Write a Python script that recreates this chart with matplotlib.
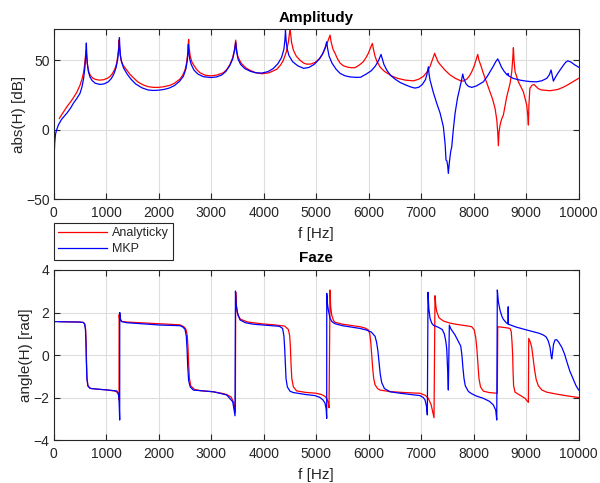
#!/usr/bin/env python3
import matplotlib

matplotlib.use("Agg")
import matplotlib.pyplot as plt

# frequency response: analytic solution vs FEM (MKP)
mag_an_f = [107, 180, 250, 320, 375, 440, 500, 540, 565, 585, 600, 612, 617, 625, 635, 650, 670, 700,
            750, 800, 870, 950, 1020, 1072, 1120, 1168, 1200, 1220, 1235, 1244, 1252, 1265, 1285, 1320,
            1390, 1450, 1516, 1600, 1707, 1800, 1900, 2000, 2100, 2215, 2300, 2406, 2460, 2501, 2530,
            2550, 2562, 2570, 2580, 2600, 2630, 2660, 2720, 2787, 2880, 2990, 3100, 3231, 3300, 3358,
            3410, 3445, 3467, 3480, 3505, 3540, 3581, 3660, 3740, 3850, 3970, 4100, 4248, 4320, 4374,
            4430, 4470, 4502, 4530, 4565, 4620, 4692, 4760, 4820, 4900, 4980, 5073, 5130, 5168, 5220,
            5264, 5285, 5320, 5359, 5400, 5454, 5520, 5600, 5680, 5740, 5820, 5898, 5950, 5993, 6040,
            6070, 6090, 6120, 6153, 6220, 6300, 6344, 6450, 6550, 6700, 6850, 6950, 7041, 7110, 7168,
            7220, 7257, 7280, 7320, 7359, 7450, 7549, 7650, 7750, 7800, 7870, 7920, 7962, 8010, 8050,
            8077, 8100, 8134, 8180, 8229, 8311, 8360, 8407, 8440, 8458, 8470, 8482, 8502, 8530, 8565,
            8629, 8693, 8725, 8744, 8756, 8768, 8788, 8851, 8946, 9010, 9030, 9042, 9052, 9070, 9110,
            9150, 9190, 9232, 9300, 9455, 9600, 9700, 9800, 9900, 10000]
mag_an_db = [8.2, 12.5, 16.5, 20.0, 23.0, 27.0, 32.0, 36.5, 40.5, 45.5, 51.0, 56.0, 57.5, 54.0, 49.0,
             45.0, 41.5, 39.0, 37.0, 36.2, 35.7, 36.0, 37.0, 38.3, 40.5, 44.0, 48.0, 53.0, 58.0, 64.5,
             60.0, 54.0, 50.0, 46.5, 43.0, 40.0, 37.5, 34.5, 32.2, 31.0, 30.5, 30.5, 31.0, 32.0, 33.5,
             36.5, 39.5, 43.0, 48.0, 54.0, 60.0, 65.0, 59.0, 53.0, 49.0, 47.0, 43.5, 41.0, 39.3, 38.8,
             39.3, 41.0, 43.5, 47.0, 52.0, 58.0, 64.5, 59.0, 53.0, 50.0, 47.5, 44.5, 42.8, 41.0, 40.3,
             41.0, 43.5, 46.5, 50.0, 56.0, 63.0, 73.0, 63.0, 57.3, 53.0, 50.0, 48.0, 47.2, 47.3, 48.5,
             51.5, 55.0, 58.5, 63.5, 68.1, 63.0, 58.0, 55.0, 51.5, 48.0, 46.0, 45.0, 44.6, 44.7, 46.5,
             49.0, 52.0, 55.0, 59.5, 62.1, 58.0, 53.0, 49.5, 45.0, 42.0, 41.0, 38.5, 37.0, 35.7, 35.2,
             36.3, 38.4, 41.5, 45.5, 51.0, 55.0, 52.5, 49.0, 47.0, 43.0, 39.5, 37.0, 35.3, 35.0, 36.5,
             38.8, 41.7, 46.0, 51.0, 54.2, 50.0, 46.5, 41.0, 35.8, 27.3, 22.0, 15.4, 7.0, -2.0, -11.5,
             -2.0, 3.4, 7.5, 10.6, 23.7, 33.4, 41.7, 51.4, 59.0, 50.0, 41.7, 34.5, 27.3, 17.8, 10.0,
             3.4, 18.0, 29.8, 32.0, 32.6, 31.0, 29.5, 28.6, 28.1, 29.0, 30.5, 32.5, 34.8, 37.0]

mag_mkp_f = [12, 20, 35, 57, 90, 150, 248, 320, 374, 440, 501, 540, 570, 595, 612, 622, 628, 640, 660,
             690, 730, 790, 880, 960, 1040, 1100, 1150, 1190, 1220, 1240, 1252, 1258, 1270, 1290, 1330,
             1400, 1470, 1560, 1680, 1800, 1900, 2000, 2100, 2200, 2300, 2400, 2470, 2520, 2545, 2558,
             2565, 2572, 2590, 2620, 2670, 2750, 2850, 3000, 3100, 3200, 3280, 3350, 3410, 3445, 3467,
             3480, 3510, 3560, 3640, 3750, 3850, 3960, 4080, 4180, 4270, 4340, 4385, 4405, 4415, 4425,
             4445, 4480, 4550, 4650, 4760, 4860, 4960, 5050, 5120, 5170, 5200, 5215, 5245, 5300, 5380,
             5454, 5550, 5650, 5772, 5850, 5868, 5950, 6050, 6130, 6190, 6235, 6255, 6290, 6350, 6420,
             6500, 6600, 6700, 6800, 6880, 6950, 7020, 7080, 7110, 7136, 7150, 7168, 7230, 7296, 7360,
             7422, 7455, 7473, 7490, 7505, 7517, 7535, 7560, 7582, 7610, 7645, 7690, 7740, 7770, 7791,
             7810, 7854, 7900, 7963, 8050, 8184, 8260, 8311, 8370, 8420, 8458, 8490, 8530, 8580, 8640,
             8655, 8665, 8750, 8883, 9000, 9100, 9201, 9300, 9392, 9440, 9474, 9495, 9518, 9545, 9600,
             9645, 9700, 9750, 9791, 9850, 9920, 10000]
mag_mkp_db = [-15.8, -9.0, -3.0, 0.0, 3.5, 7.5, 11.8, 15.5, 19.0, 22.5, 26.2, 31.0, 37.0, 45.0, 54.0,
              62.4, 56.0, 48.0, 42.0, 38.0, 35.5, 33.5, 32.6, 33.0, 34.5, 37.0, 40.5, 45.0, 51.0, 58.0,
              66.2, 61.0, 54.0, 49.0, 44.5, 40.0, 36.5, 33.0, 30.2, 28.6, 28.3, 28.5, 29.0, 30.0, 31.8,
              35.0, 38.5, 44.0, 50.0, 56.0, 61.4, 57.0, 51.0, 47.0, 43.0, 40.0, 38.2, 37.6, 38.0, 39.4,
              42.0, 46.0, 51.0, 57.0, 63.0, 57.0, 51.0, 47.0, 44.0, 42.0, 41.0, 40.8, 41.8, 44.0, 47.5,
              52.0, 58.0, 65.0, 71.5, 65.0, 58.5, 53.5, 49.0, 46.0, 44.2, 44.8, 47.0, 50.5, 54.5, 59.0,
              63.3, 59.0, 53.0, 48.0, 43.5, 40.6, 38.8, 38.0, 37.7, 37.8, 38.3, 40.0, 42.5, 46.0, 50.0,
              54.2, 51.5, 47.0, 42.5, 39.0, 36.5, 34.0, 32.3, 30.8, 30.0, 30.5, 32.5, 36.0, 40.0, 45.3,
              40.0, 35.8, 27.0, 19.0, 12.0, 2.2, -10.0, -21.8, -22.5, -26.0, -31.4, -24.0, -16.0, -12.2,
              -0.5, 11.8, 22.5, 30.9, 36.0, 40.1, 37.0, 33.0, 31.2, 30.5, 31.5, 34.5, 38.5, 41.7, 45.5,
              49.0, 51.0, 48.5, 45.0, 42.0, 39.3, 40.5, 38.8, 37.0, 35.7, 35.0, 34.6, 34.5, 35.3, 37.0,
              39.5, 43.0, 39.0, 35.0, 37.0, 40.5, 43.0, 46.0, 48.5, 49.6, 48.8, 46.8, 45.0]

ph_an_f = [107, 500, 567, 593, 608, 618, 625, 635, 653, 695, 800, 1000, 1150, 1200, 1232, 1244, 1246,
           1255, 1270, 1300, 1400, 2025, 2400, 2480, 2520, 2545, 2558, 2570, 2585, 2610, 2680, 2800,
           3041, 3200, 3295, 3380, 3430, 3460, 3467, 3480, 3510, 3560, 3700, 3993, 4200, 4400, 4470,
           4495, 4508, 4520, 4535, 4565, 4629, 4800, 5000, 5100, 5170, 5200, 5230, 5244, 5264, 5275,
           5295, 5330, 5359, 5500, 5700, 5835, 5930, 5993, 6020, 6040, 6057, 6075, 6095, 6121, 6170,
           6216, 6400, 6700, 6978, 7080, 7136, 7190, 7219, 7244, 7263, 7280, 7296, 7340, 7422, 7550,
           7677, 7850, 7963, 8010, 8040, 8060, 8080, 8100, 8130, 8184, 8300, 8450, 8458, 8600, 8693,
           8715, 8730, 8742, 8750, 8760, 8788, 8900, 8979, 9042, 9048, 9080, 9106, 9130, 9160, 9190,
           9232, 9300, 9392, 9600, 9800, 10000]
ph_an_rad = [1.57, 1.55, 1.53, 1.45, 1.20, 0.50, -0.30, -1.10, -1.45, -1.57, -1.60, -1.64, -1.69,
             -1.73, -1.85, -2.12, 1.90, 1.70, 1.62, 1.58, 1.55, 1.47, 1.42, 1.33, 1.20, 0.90, 0.35,
             -0.40, -1.10, -1.45, -1.62, -1.68, -1.73, -1.80, -1.86, -1.98, -2.25, -2.70, 2.95, 2.30,
             1.85, 1.68, 1.55, 1.46, 1.42, 1.36, 1.20, 0.90, 0.40, -0.40, -1.10, -1.50, -1.69, -1.76,
             -1.80, -1.86, -1.95, -2.04, -2.25, -2.48, 3.06, 2.30, 1.88, 1.62, 1.54, 1.45, 1.38, 1.33,
             1.27, 1.18, 1.00, 0.60, 0.0, -0.60, -1.10, -1.40, -1.58, -1.65, -1.72, -1.77, -1.80,
             -1.90, -2.04, -2.35, -2.67, -2.95, 2.79, 2.30, 2.04, 1.75, 1.60, 1.50, 1.44, 1.38, 1.33,
             1.18, 0.80, 0.30, -0.40, -1.10, -1.50, -1.70, -1.77, -1.80, 1.33, 1.29, 1.25, 1.10, 0.60,
             0.0, -0.80, -1.45, -1.75, -1.92, -2.04, -2.23, 0.78, 0.60, 0.35, -0.10, -0.70, -1.15,
             -1.45, -1.65, -1.75, -1.85, -1.93, -2.00]

ph_mkp_f = [0, 12, 13, 500, 564, 590, 605, 615, 622, 632, 650, 692, 800, 1000, 1200, 1232, 1244, 1257,
            1258, 1270, 1295, 1390, 2025, 2406, 2450, 2500, 2525, 2540, 2552, 2570, 2600, 2660, 2800,
            3041, 3295, 3410, 3454, 3462, 3475, 3498, 3549, 3650, 3800, 3993, 4200, 4300, 4360, 4385,
            4400, 4412, 4425, 4450, 4500, 4565, 4600, 4800, 4977, 5073, 5130, 5168, 5190, 5200, 5201,
            5215, 5232, 5264, 5300, 5360, 5500, 5700, 5835, 5950, 6050, 6121, 6150, 6175, 6195, 6220,
            6248, 6300, 6407, 6600, 6800, 6978, 7040, 7073, 7100, 7117, 7130, 7145, 7168, 7200, 7232,
            7330, 7400, 7440, 7465, 7486, 7505, 7517, 7528, 7536, 7560, 7600, 7645, 7708, 7753, 7775,
            7795, 7815, 7840, 7900, 7960, 8050, 8184, 8300, 8374, 8420, 8439, 8450, 8470, 8502, 8540,
            8565, 8620, 8655, 8657, 8660, 8800, 8946, 9100, 9250, 9327, 9380, 9422, 9455, 9475, 9487,
            9500, 9520, 9549, 9580, 9620, 9680, 9730, 9772, 9830, 9899, 9950, 10000]
ph_mkp_rad = [0.0, 0.0, 1.57, 1.55, 1.53, 1.45, 1.20, 0.50, -0.30, -1.10, -1.45, -1.57, -1.60, -1.64,
              -1.69, -1.80, -2.04, -3.06, 2.00, 1.70, 1.57, 1.52, 1.41, 1.38, 1.33, 1.22, 0.90, 0.30,
              -0.50, -1.20, -1.50, -1.65, -1.68, -1.73, -1.88, -2.20, -2.86, 3.01, 2.40, 2.00, 1.65,
              1.52, 1.45, 1.41, 1.37, 1.35, 1.25, 0.90, 0.30, -0.40, -1.10, -1.50, -1.70, -1.77, -1.78,
              -1.86, -1.91, -2.00, -2.12, -2.27, -2.55, -2.98, 2.90, 2.40, 2.10, 1.73, 1.57, 1.47, 1.38,
              1.30, 1.25, 1.18, 1.08, 0.88, 0.60, 0.20, -0.30, -0.90, -1.30, -1.58, -1.73, -1.80, -1.86,
              -1.91, -2.00, -2.12, -2.40, -2.82, 2.95, 2.20, 1.73, 1.50, 1.40, 1.30, 1.20, 1.00, 0.70,
              0.31, -0.80, -1.65, 0.20, 1.41, 1.25, 1.10, 0.94, 0.63, 0.42, 0.0, -0.60, -1.10, -1.45,
              -1.72, -1.82, -1.93, -2.04, -2.18, -2.35, -2.60, -3.06, 3.06, 2.50, 2.10, 1.80, 1.68, 1.52,
              1.46, 2.27, 1.45, 1.32, 1.22, 1.12, 1.02, 0.94, 0.85, 0.65, 0.35, -0.05, -0.18, 0.05, 0.50,
              0.71, 0.72, 0.60, 0.35, 0.05, -0.30, -0.75, -1.15, -1.45, -1.65]

DARK = "#262626"

plt.rcParams["font.family"] = ["Liberation Sans", "DejaVu Sans"]
plt.rcParams["axes.linewidth"] = 0.8

fig = plt.figure(figsize=(6.0, 4.83), dpi=100)
ax1 = fig.add_axes([0.0895, 0.5874, 0.875, 0.352])
ax2 = fig.add_axes([0.0895, 0.089, 0.875, 0.352])


def style_axes(ax, title, ylabel, ylabel_x):
    ax.set_xlim(0, 10000)
    ax.set_xticks(range(0, 10001, 1000))
    ax.grid(True, color="#dedede", linewidth=0.8)
    ax.set_axisbelow(True)
    ax.tick_params(direction="in", top=True, right=True, length=4, width=0.8, color=DARK,
                   labelsize=10, labelcolor=DARK)
    ax.tick_params(axis="x", pad=5)
    ax.tick_params(axis="y", pad=3)
    for sp in ax.spines.values():
        sp.set_color(DARK)
    ax.set_title(title, fontsize=11, fontweight="bold", color="black", pad=5.5)
    ax.set_xlabel("f [Hz]", fontsize=11, color=DARK)
    ax.set_ylabel(ylabel, fontsize=11, color=DARK)
    ax.xaxis.set_label_coords(0.5, -0.163)
    ax.yaxis.set_label_coords(ylabel_x, 0.5)


l1, = ax1.plot(mag_an_f, mag_an_db, color="#ff0000", linewidth=0.9)
l2, = ax1.plot(mag_mkp_f, mag_mkp_db, color="#0000ff", linewidth=0.9)
ax1.set_ylim(-50, 72.3)
ax1.set_yticks([-50, 0, 50])
style_axes(ax1, "Amplitudy", "abs(H) [dB]", -0.052)

ax2.plot(ph_an_f, ph_an_rad, color="#ff0000", linewidth=0.9)
ax2.plot(ph_mkp_f, ph_mkp_rad, color="#0000ff", linewidth=0.9)
ax2.set_ylim(-4, 4)
ax2.set_yticks([-4, -2, 0, 2, 4])
style_axes(ax2, "Faze", "angle(H) [rad]", -0.040)

leg = fig.legend([l1, l2], ["Analyticky", "MKP"], loc="upper left",
                 bbox_to_anchor=(54 / 600, 1 - 223 / 483), fontsize=9, frameon=True,
                 fancybox=False, framealpha=1, edgecolor=DARK, handlelength=3.9,
                 handletextpad=0.4, borderaxespad=0, borderpad=0.35, labelspacing=0.3)
leg.get_frame().set_linewidth(0.8)
for t in leg.get_texts():
    t.set_color(DARK)

fig.savefig("out.png", dpi=100)
